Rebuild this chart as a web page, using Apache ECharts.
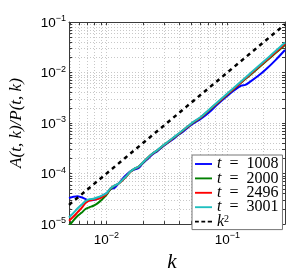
<!DOCTYPE html>
<html><head><meta charset="utf-8">
<script src="https://cdn.jsdelivr.net/npm/echarts@6/dist/echarts.min.js"></script>
<style>html,body{margin:0;padding:0;background:#fff}#c{width:297px;height:278px}</style>
</head><body><div id="c"></div>
<script>
const kVals = [0.0049, 0.00534, 0.00576, 0.00621, 0.00671, 0.00724, 0.00781, 0.00843, 0.00909, 0.0100,
  0.01079, 0.01164, 0.01256, 0.01356, 0.01463, 0.01579, 0.01703, 0.01838, 0.01984, 0.02182,
  0.0240, 0.0264, 0.0290, 0.0319, 0.0358, 0.0394, 0.0433, 0.0476, 0.0524, 0.0598,
  0.0697, 0.0827, 0.0963, 0.1121, 0.1305, 0.1409, 0.1549, 0.1804, 0.2101, 0.2493, 0.3];
const t1008 = [3.28e-5, 3.47e-5, 3.57e-5, 3.39e-5, 3.12e-5, 2.96e-5, 2.99e-5, 3.18e-5, 3.54e-5, 4.06e-5,
  4.89e-5, 5.21e-5, 6.32e-5, 7.83e-5, 9.50e-5, 1.103e-4, 1.203e-4, 1.282e-4, 1.555e-4, 1.927e-4,
  2.388e-4, 2.775e-4, 3.365e-4, 3.995e-4, 4.844e-4, 5.876e-4, 6.829e-4, 8.279e-4, 9.831e-4, 1.192e-3,
  1.576e-3, 2.317e-3, 3.196e-3, 4.315e-3, 5.50e-3, 5.70e-3, 6.60e-3, 8.60e-3, 1.17e-2, 1.74e-2, 2.79e-2];
const t2000 = [0.92e-5, 1.19e-5, 1.44e-5, 1.67e-5, 1.99e-5, 2.16e-5, 2.31e-5, 2.57e-5, 2.99e-5, 3.78e-5,
  4.89e-5, 5.70e-5, 6.30e-5, 7.35e-5, 8.80e-5, 1.085e-4, 1.24e-4, 1.355e-4, 1.60e-4, 2.01e-4,
  2.46e-4, 2.88e-4, 3.46e-4, 4.10e-4, 5.07e-4, 6.00e-4, 7.20e-4, 8.60e-4, 1.027e-3, 1.26e-3,
  1.74e-3, 2.47e-3, 3.39e-3, 4.62e-3, 6.32e-3, 7.42e-3, 8.98e-3, 1.23e-2, 1.685e-2, 2.40e-2, 3.50e-2];
const t2496 = [1.16e-5, 1.41e-5, 1.71e-5, 2.07e-5, 2.62e-5, 2.92e-5, 3.05e-5, 3.12e-5, 3.39e-5, 3.94e-5,
  5.05e-5, 5.75e-5, 6.28e-5, 7.40e-5, 8.85e-5, 1.09e-4, 1.245e-4, 1.36e-4, 1.61e-4, 2.02e-4,
  2.47e-4, 2.89e-4, 3.48e-4, 4.12e-4, 5.10e-4, 6.05e-4, 7.26e-4, 8.68e-4, 1.036e-3, 1.27e-3,
  1.76e-3, 2.50e-3, 3.43e-3, 4.69e-3, 6.45e-3, 7.58e-3, 9.20e-3, 1.265e-2, 1.74e-2, 2.48e-2, 3.65e-2];
const t3001 = [1.35e-5, 1.67e-5, 2.03e-5, 2.41e-5, 2.86e-5, 3.12e-5, 3.18e-5, 3.39e-5, 3.62e-5, 4.06e-5,
  5.10e-5, 5.80e-5, 6.32e-5, 7.50e-5, 8.91e-5, 1.103e-4, 1.255e-4, 1.367e-4, 1.623e-4, 2.038e-4,
  2.493e-4, 2.921e-4, 3.512e-4, 4.170e-4, 5.168e-4, 6.134e-4, 7.375e-4, 8.832e-4, 1.057e-3, 1.299e-3,
  1.792e-3, 2.569e-3, 3.543e-3, 4.866e-3, 6.711e-3, 7.900e-3, 9.621e-3, 1.327e-2, 1.830e-2, 2.624e-2, 3.93e-2];
const refK = [0.0049, 0.3];
const refVals = [2.4e-5, 0.09];
const xTickLabels = [0.01, 0.1];
const yTickLabels = [1e-5, 1e-4, 1e-3, 1e-2, 1e-1];
const xDecades = [0.001, 0.01, 0.1];
const yDecades = [1e-5, 1e-4, 1e-3, 1e-2];
const mult = [1, 2, 3, 4, 5, 6, 7, 8, 9];

const X_MIN = 0.0049, X_MAX = 0.3, Y_MIN = 1e-5, Y_MAX = 1e-1;
function gridVals(decades, lo, hi, extra) {
  const out = [];
  decades.forEach(d => mult.forEach(m => { const v = +(d * m).toPrecision(6); if (v >= lo * 0.999 && v <= hi * 1.001) out.push(v); }));
  if (extra) out.push(extra);
  return out;
}
const xGrid = gridVals(xDecades, X_MIN, X_MAX);
const yGrid = gridVals(yDecades, Y_MIN, Y_MAX, 1e-1);

function expLabel(v) {
  const e = Math.round(Math.log10(v));
  return '{b|10}{s|' + (e < 0 ? '\u2212' : '') + Math.abs(e) + '}';
}
const labRich = {
  b: { fontSize: 13.5, fontFamily: 'Liberation Sans', color: '#000', verticalAlign: 'bottom', lineHeight: 16 },
  s: { fontSize: 9, fontFamily: 'Liberation Sans', color: '#000', verticalAlign: 'top', lineHeight: 16 }
};
const lineCol = '#3a3a3a';
const gridLine = { show: true, lineStyle: { color: '#c8c8c8', type: [1, 2], width: 1 } };
const solidIcon = 'path://M0,0H20V2.2H0Z';
const dashIcon = 'path://M0,0H4.5V2.2H0Z M7.5,0H12V2.2H7.5Z M15,0H20V2.2H15Z';

function mkSeries(name, vals, color) {
  return {
    name, type: 'line', xAxisIndex: 0, yAxisIndex: 0,
    data: kVals.map((k, i) => [k, vals[i]]),
    showSymbol: false, symbol: 'none', smooth: 0.3,
    lineStyle: { color, width: 2 }, itemStyle: { color }, z: 3
  };
}

const chart = echarts.init(document.getElementById('c'), null, { renderer: 'canvas' });
chart.setOption({
  animation: false,
  backgroundColor: '#fff',
  grid: { left: 69, top: 22, right: 12, bottom: 41, containLabel: false },
  xAxis: [{
    type: 'log', min: X_MIN, max: X_MAX, position: 'bottom',
    axisLine: { show: true, lineStyle: { color: lineCol, width: 1 } },
    axisTick: { show: true, inside: true, length: 3, customValues: xGrid, lineStyle: { color: lineCol } },
    axisLabel: { show: true, customValues: xTickLabels, formatter: expLabel, rich: labRich, margin: 7 },
    splitLine: gridLine, minorTick: { show: false },
    name: 'k', nameLocation: 'middle', nameGap: 17,
    nameTextStyle: { fontFamily: 'Liberation Serif', fontStyle: 'italic', fontSize: 21, color: '#000', padding: [0, 10, 0, 0] }
  }, {
    type: 'log', min: X_MIN, max: X_MAX, position: 'top',
    axisLine: { show: true, lineStyle: { color: lineCol, width: 1 } },
    axisTick: { show: true, inside: true, length: 3, customValues: xGrid, lineStyle: { color: lineCol } },
    axisLabel: { show: false }, splitLine: { show: false }
  }],
  yAxis: [{
    type: 'log', min: Y_MIN, max: Y_MAX, position: 'left',
    axisLine: { show: true, lineStyle: { color: lineCol, width: 1 } },
    axisTick: { show: true, inside: true, length: 3, customValues: yGrid, lineStyle: { color: lineCol } },
    axisLabel: { show: true, customValues: yTickLabels, formatter: expLabel, rich: labRich, margin: 3 },
    splitLine: gridLine,
    name: 'A(t, k)/P(t, k)', nameLocation: 'middle', nameGap: 44,
    nameTextStyle: { fontFamily: 'Liberation Serif', fontStyle: 'italic', fontSize: 17, color: '#000' }
  }, {
    type: 'log', min: Y_MIN, max: Y_MAX, position: 'right',
    axisLine: { show: true, lineStyle: { color: lineCol, width: 1 } },
    axisTick: { show: true, inside: true, length: 3, customValues: yGrid, lineStyle: { color: lineCol } },
    axisLabel: { show: false }, splitLine: { show: false }
  }],
  legend: {
    orient: 'vertical', left: 192, top: 155,
    backgroundColor: '#fff', borderColor: '#777', borderWidth: 1, borderRadius: 0,
    padding: [1, 4, 0, 3], itemGap: -1.6, itemWidth: 17, itemHeight: 12,
    data: [
      { name: 't = 1008', icon: solidIcon }, { name: 't = 2000', icon: solidIcon },
      { name: 't = 2496', icon: solidIcon }, { name: 't = 3001', icon: solidIcon },
      { name: 'k2', icon: dashIcon }
    ],
    formatter: n => n === 'k2' ? '{i|k}{p|2}' : '{i|t}\u2002=\u2002' + n.slice(4),
    textStyle: {
      fontFamily: 'Liberation Serif', fontSize: 16, color: '#000', lineHeight: 14.2,
      rich: {
        i: { fontFamily: 'Liberation Serif', fontStyle: 'italic', fontSize: 16, lineHeight: 14.2 },
        p: { fontFamily: 'Liberation Serif', fontSize: 10, verticalAlign: 'top', lineHeight: 14.2 }
      }
    }
  },
  series: [
    mkSeries('t = 1008', t1008, '#0000ff'),
    mkSeries('t = 2000', t2000, '#008000'),
    mkSeries('t = 2496', t2496, '#ff0000'),
    mkSeries('t = 3001', t3001, '#1fbfbf'),
    {
      name: 'k2', type: 'line', data: refK.map((k, i) => [k, refVals[i]]),
      showSymbol: false, symbol: 'none',
      lineStyle: { color: '#000', width: 2.5, type: [4, 4] }, itemStyle: { color: '#000' }, z: 4
    }
  ]
});
</script></body></html>
